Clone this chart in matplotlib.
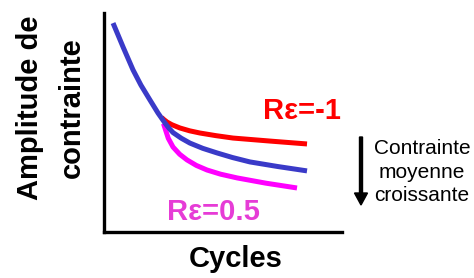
import matplotlib
matplotlib.use("Agg")
import matplotlib.pyplot as plt

plt.rcParams["font.family"] = ["Liberation Sans", "DejaVu Sans"]

# Schematic curves (arbitrary units)
blue_x = [3.8, 8.0, 12.2, 15.5, 19.3, 22.7, 25.6, 27.3, 29.0, 32.5, 36.1, 41.5, 47.5, 54.0, 61.3, 73.0, 85.3]
blue_y = [95.4, 84.5, 74.0, 67.1, 60.3, 54.3, 49.8, 47.4, 45.4, 42.8, 40.6, 38.2, 36.1, 34.0, 32.0, 29.9, 27.9]

red_x = [24.2, 25.2, 26.5, 28.5, 31.9, 36.0, 40.3, 47.0, 54.2, 70.0, 85.3]
red_y = [52.3, 51.3, 50.2, 49.0, 47.5, 46.2, 45.2, 44.0, 42.9, 41.5, 40.2]

mag_x = [25.0, 25.8, 27.0, 29.0, 31.8, 34.9, 38.8, 43.3, 49.0, 55.9, 68.0, 81.1]
mag_y = [49.5, 46.8, 42.8, 38.8, 35.5, 32.9, 30.4, 28.3, 26.4, 24.7, 22.3, 20.1]

labels = ["Rε=-1", "Rε=0.5"]

fig = plt.figure(figsize=(4.74, 2.78), dpi=100)
ax = fig.add_axes([104 / 474, 1 - 232 / 278, 238 / 474, 219 / 278])
ax.set_xlim(0, 100)
ax.set_ylim(0, 100)

ax.plot(red_x, red_y, color="#FF0000", lw=3.6, solid_capstyle="butt")
ax.plot(mag_x, mag_y, color="#FF00FF", lw=3.6, solid_capstyle="butt")
ax.plot(blue_x, blue_y, color="#3A3AC8", lw=3.6, solid_capstyle="butt")

ax.text(66.8, 51.6, labels[0], color="#FF0000", fontsize=21, fontweight="bold",
        ha="left", va="baseline")
ax.text(26.5, 5.5, labels[1], color="#E63CD6", fontsize=21, fontweight="bold",
        ha="left", va="baseline")

for s in ["top", "right"]:
    ax.spines[s].set_visible(False)
for s in ["left", "bottom"]:
    ax.spines[s].set_linewidth(2.4)
ax.set_xticks([])
ax.set_yticks([])

fig.text(30 / 474, 1 - 108 / 278, "Amplitude de", rotation=90, fontsize=21,
         fontweight="bold", ha="center", va="center")
fig.text(72 / 474, 1 - 108 / 278, "contrainte", rotation=90, fontsize=21,
         fontweight="bold", ha="center", va="center")
fig.text(236 / 474, 1 - 267 / 278, "Cycles", fontsize=21, fontweight="bold",
         ha="center", va="baseline")

# arrow + note on the right
fig.patches.append(matplotlib.patches.FancyArrow(
    361 / 474, 1 - 137 / 278, 0, -(205 - 137) / 278, width=3 / 474,
    head_width=13 / 474, head_length=12 / 278, length_includes_head=True,
    color="black", transform=fig.transFigure, figure=fig))
fig.text(422 / 474, 1 - 172 / 278, "Contrainte\nmoyenne\ncroissante",
         fontsize=15, ha="center", va="center", multialignment="center",
         linespacing=1.32)

fig.savefig("out.png", dpi=100)
